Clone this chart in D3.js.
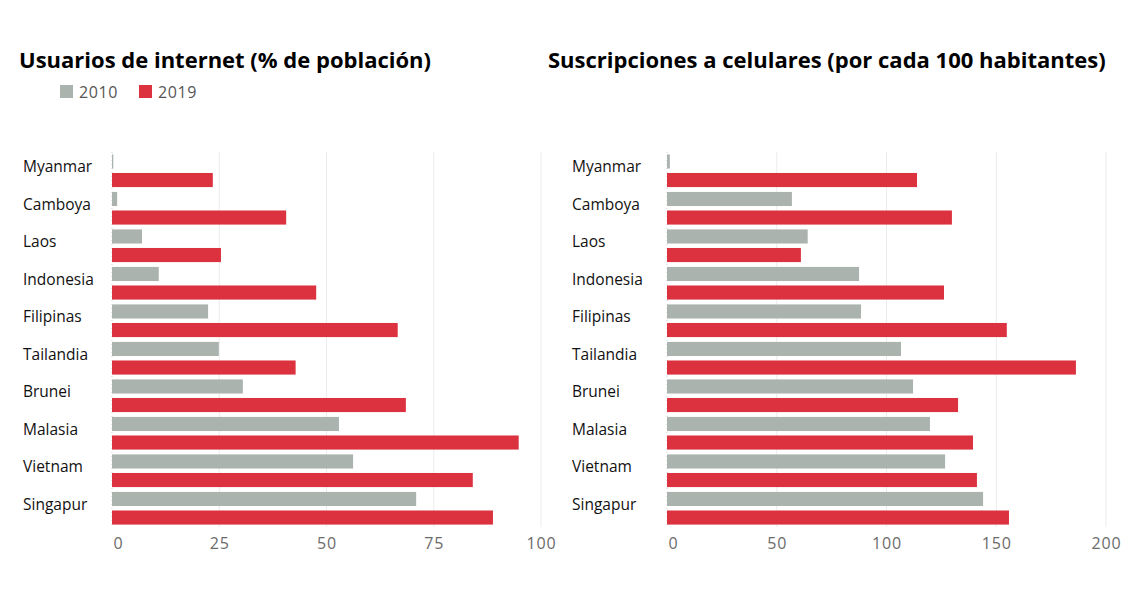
<!DOCTYPE html>
<meta charset="utf-8">
<style>

body {
  margin: 0;
  background: #fff;
}

.title {
  font-family: "Open Sans", sans-serif;
  font-weight: bold;
  font-size: 22px;
  fill: #000;
}

.country {
  font-family: "Open Sans", sans-serif;
  font-size: 15.5px;
  fill: #111;
}

.legend text {
  font-family: "Open Sans", sans-serif;
  font-size: 16px;
  letter-spacing: 0.6px;
  fill: #555;
}

.axis text {
  font-family: "Open Sans", sans-serif;
  font-size: 16px;
  letter-spacing: 0.8px;
  fill: #6b6b6b;
}

.grid line {
  stroke: #ececec;
  stroke-width: 1px;
}

</style>

<body>

<script src="https://cdn.jsdelivr.net/npm/d3@7"></script>
<script>

var countries = ["Myanmar", "Camboya", "Laos", "Indonesia", "Filipinas",
                 "Tailandia", "Brunei", "Malasia", "Vietnam", "Singapur"];

var years = ["2010", "2019"];

// usuarios de internet, % de la poblacion
var internet2010 = [0.3, 1.2, 7.0, 10.9, 22.4, 24.9, 30.5, 52.9, 56.2, 70.9];
var internet2019 = [23.5, 40.6, 25.4, 47.6, 66.6, 42.8, 68.5, 94.8, 84.1, 88.8];

// suscripciones a celulares por cada 100 habitantes
var mobile2010 = [1.3, 56.9, 64.1, 87.5, 88.4, 106.6, 112.1, 119.8, 126.7, 144.0];
var mobile2019 = [113.9, 129.8, 61.0, 126.2, 154.8, 186.3, 132.6, 139.4, 141.2, 155.8];

var internetTicks = [0, 25, 50, 75, 100];
var mobileTicks = [0, 50, 100, 150, 200];

var color = d3.scaleOrdinal()
    .domain(years)
    .range(["#abb3ae", "#dc3240"]);

var svg = d3.select("body").append("svg")
    .attr("width", 1140)
    .attr("height", 600);

var y0 = d3.scaleBand()
    .domain(countries)
    .range([152, 527]);

var y1 = d3.scaleBand()
    .domain(years)
    .range([0, y0.bandwidth()])
    .paddingInner(0.24)
    .paddingOuter(0.13);

function panel(opts) {
  var x = d3.scaleLinear()
      .domain([0, opts.max])
      .range([opts.x0, opts.x1]);

  var g = svg.append("g");

  g.append("text")
      .attr("class", "title")
      .attr("x", opts.titleX)
      .attr("y", 68)
      .text(opts.title);

  // lineas de la cuadricula
  g.append("g")
      .attr("class", "grid")
    .selectAll("line")
    .data(opts.ticks.slice(1))
    .enter().append("line")
      .attr("x1", function(d) { return x(d); })
      .attr("x2", function(d) { return x(d); })
      .attr("y1", y0.range()[0])
      .attr("y2", y0.range()[1]);

  g.append("line")
      .attr("x1", x(0))
      .attr("x2", x(0))
      .attr("y1", y0.range()[0])
      .attr("y2", y0.range()[1])
      .style("stroke", "#d0d0d0")
      .style("stroke-dasharray", "1,3");

  var axis = g.append("g")
      .attr("class", "axis")
      .attr("transform", "translate(0," + 527 + ")")
      .call(d3.axisBottom(x).tickValues(opts.ticks).tickSize(0).tickPadding(11));
  axis.select(".domain").remove();
  axis.selectAll("text")
      .attr("dx", function(d) { return d === 0 ? 6 : 0; });

  var rows = g.selectAll(".row")
    .data(countries)
    .enter().append("g")
      .attr("class", "row")
      .attr("transform", function(d) { return "translate(0," + y0(d) + ")"; });

  rows.selectAll("rect")
    .data(function(d, i) {
      return [
        {year: "2010", value: opts.a[i]},
        {year: "2019", value: opts.b[i]}
      ];
    })
    .enter().append("rect")
      .attr("x", x(0))
      .attr("y", function(d) { return y1(d.year); })
      .attr("width", function(d) { return x(d.value) - x(0); })
      .attr("height", y1.bandwidth())
      .style("fill", function(d) { return color(d.year); });

  rows.append("text")
      .attr("class", "country")
      .attr("x", opts.labelX)
      .attr("y", y0.bandwidth() / 2 - 4)
      .attr("dy", "0.35em")
      .text(function(d) { return d; });
}

panel({
  title: "Usuarios de internet (% de población)",
  titleX: 19,
  max: 100,
  x0: 112,
  x1: 541,
  ticks: internetTicks,
  a: internet2010,
  b: internet2019,
  labelX: 23
});

panel({
  title: "Suscripciones a celulares (por cada 100 habitantes)",
  titleX: 548,
  max: 200,
  x0: 667,
  x1: 1106,
  ticks: mobileTicks,
  a: mobile2010,
  b: mobile2019,
  labelX: 572
});

var legend = svg.append("g")
    .attr("class", "legend")
    .selectAll("g")
    .data(years)
    .enter().append("g")
      .attr("transform", function(d, i) { return "translate(" + (60 + i * 79) + ",85)"; });

legend.append("rect")
    .attr("width", 13)
    .attr("height", 13)
    .style("fill", function(d) { return color(d); });

legend.append("text")
    .attr("x", 19)
    .attr("y", 7)
    .attr("dy", "0.35em")
    .text(function(d) { return d; });

</script>
</body>
